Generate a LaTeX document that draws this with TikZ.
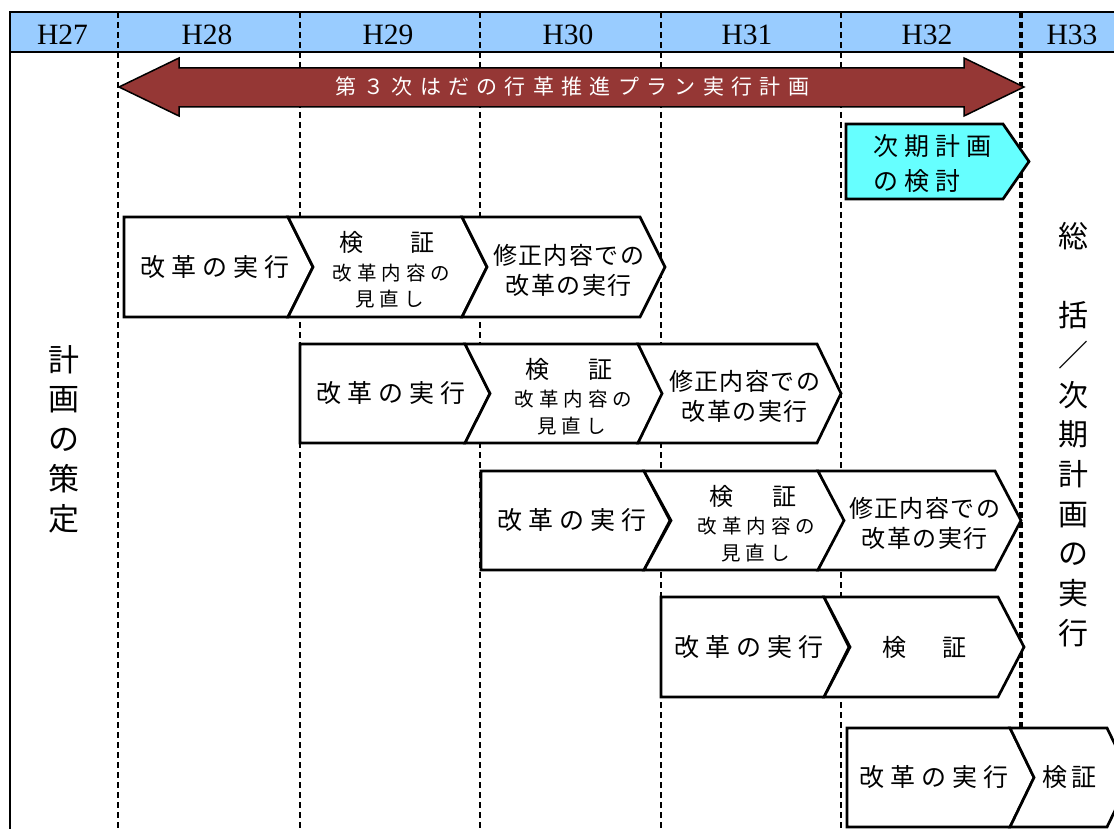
\documentclass[tikz,border=0pt]{standalone}
\usepackage{fontspec}
\setmainfont{Liberation Serif}
\newfontfamily\jp{Noto Sans CJK JP}
\definecolor{hdr}{RGB}{153,204,255}
\definecolor{arrowred}{RGB}{149,55,53}
\definecolor{cyanbox}{RGB}{102,255,255}
\newcommand{\jpt}[2]{\jp\fontsize{#1}{#1}\selectfont\addfontfeature{LetterSpace=#2}}
\newcommand{\pentseg}[5]{\draw[seg] (#1,#3) -- (#2,#3) -- ({#2+#5},{(#3+#4)/2}) -- (#2,#4) -- (#1,#4) -- cycle;}
\newcommand{\chevseg}[5]{\draw[seg] (#1,#3) -- (#2,#3) -- ({#2+#5},{(#3+#4)/2}) -- (#2,#4) -- (#1,#4) -- ({#1+#5},{(#3+#4)/2}) -- cycle;}
\tikzset{
  seg/.style={draw=black, line width=2.7pt, fill=white, line join=miter},
  vline/.style={draw=black, line width=2.4pt, dash pattern=on 6pt off 4pt},
  frame/.style={draw=black, line width=2.5pt},
  txt/.style={inner sep=0pt, outer sep=0pt, text=black},
  hlabel/.style={txt, font=\fontsize{29.5}{29.5}\selectfont},
  big/.style={txt, font=\jpt{25}{24}, xshift=3pt},
  mid/.style={txt, font=\jpt{24}{6}, xshift=0.7pt},
  ken/.style={txt, font=\jpt{24}{0}},
  small/.style={txt, font=\jpt{19.5}{25}, xshift=2.4pt},
  cyantxt/.style={txt, font=\jpt{25}{24}, anchor=west},
  arrowtext/.style={txt, text=white, font=\jpt{21}{35}, xshift=3.7pt},
  vleft/.style={txt, align=center, font=\jp\fontsize{31}{39.75}\selectfont},
  vright/.style={txt, align=center, font=\jp\fontsize{30}{39.7}\selectfont},
  bigarrow/.style={draw=black, line width=1.5pt, fill=arrowred, line join=miter}
}
\begin{document}
\begin{tikzpicture}[x=1pt,y=-1pt]
\useasboundingbox (0,0) rectangle (1114,829);
\clip (0,0) rectangle (1114,829);
% header
\fill[white] (0,0) rectangle (1114,829);
\fill[hdr] (10,12) rectangle (1114,52);
\foreach \x in {118,300,480,661,841} \draw[vline] (\x,12) -- (\x,829);
\draw[vline, line width=3.4pt] (1021,12) -- (1021,829);
\draw[frame] (1114,12) -- (10,12) -- (10,829);
\draw[frame] (10,52) -- (1114,52);
\node[hlabel] (h27) at (62.5,34.5) {H27};
\node[hlabel] (h28) at (207,34.5) {H28};
\node[hlabel] (h29) at (388,34.5) {H29};
\node[hlabel] (h30) at (568,34.5) {H30};
\node[hlabel] (h31) at (747,34.5) {H31};
\node[hlabel] (h32) at (927,34.5) {H32};
\node[hlabel] (h33) at (1072,34.5) {H33};
% big arrow
\draw[bigarrow] (119,87) -- (179,58) -- (179,68) -- (964,68) -- (964,58) -- (1024,87) -- (964,116) -- (964,107) -- (179,107) -- (179,116) -- cycle;
\node[arrowtext] (plan) at (568.5,87) {第３次はだの行革推進プラン実行計画};
% cyan box
\draw[seg, fill=cyanbox] (846,124) -- (1003,124) -- (1029,161.5) -- (1003,199) -- (846,199) -- cycle;
\node[cyantxt] (nx1) at (873,146) {次期計画};
\node[cyantxt] (nx2) at (873,181.5) {の検討};
% row 1
\pentseg{124}{288}{217}{317}{25}
\chevseg{288}{462}{217}{317}{25}
\chevseg{462}{640}{217}{317}{25}
\node[big] (r1a) at (212,267) {改革の実行};
\node[ken] (r1b1) at (387,242) {検\hspace{47pt}証};
\node[small] (r1b2) at (389,273) {改革内容の};
\node[small] (r1b3) at (387,299) {見直し};
\node[mid] (r1c1) at (568,255) {修正内容での};
\node[mid] (r1c2) at (568,285) {改革の実行};
% row 2
\pentseg{300}{465}{344}{443}{25}
\chevseg{465}{638}{344}{443}{25}
\chevseg{638}{817}{344}{443}{24}
\node[big] (r2a) at (388,393.5) {改革の実行};
\node[ken] (r2b1) at (569,369) {検\hspace{40pt}証};
\node[small] (r2b2) at (571,399.5) {改革内容の};
\node[small] (r2b3) at (569,426) {見直し};
\node[mid] (r2c1) at (744,381.5) {修正内容での};
\node[mid] (r2c2) at (744,411.5) {改革の実行};
% row 3
\pentseg{481}{644}{471}{570}{26}
\chevseg{644}{818}{471}{570}{27}
\chevseg{818}{995}{471}{570}{26}
\node[big] (r3a) at (569,520.5) {改革の実行};
\node[ken] (r3b1) at (753,496) {検\hspace{40pt}証};
\node[small] (r3b2) at (754,526.5) {改革内容の};
\node[small] (r3b3) at (753,553) {見直し};
\node[mid] (r3c1) at (924,508.5) {修正内容での};
\node[mid] (r3c2) at (924,538.5) {改革の実行};
% row 4
\pentseg{661}{824}{597}{697}{25}
\chevseg{824}{998}{597}{697}{26}
\node[big] (r4a) at (746,647) {改革の実行};
\node[ken] (r4b) at (924.5,647) {検\hspace{37pt}証};
% row 5
\pentseg{847}{1010}{728}{827}{24}
\chevseg{1010}{1107}{728}{827}{24}
\node[big] (r5a) at (931,777.5) {改革の実行};
\node[txt, font=\jpt{25}{14}, xshift=1.7pt] (r5b) at (1068,777.5) {検証};
% vertical labels
\node[vleft] (plansetup) at (63.5,439) {計\\画\\の\\策\\定};
\node[vright] (summary) at (1073,434.5) {総\\　\\括\\／\\次\\期\\計\\画\\の\\実\\行};
\end{tikzpicture}
\end{document}
